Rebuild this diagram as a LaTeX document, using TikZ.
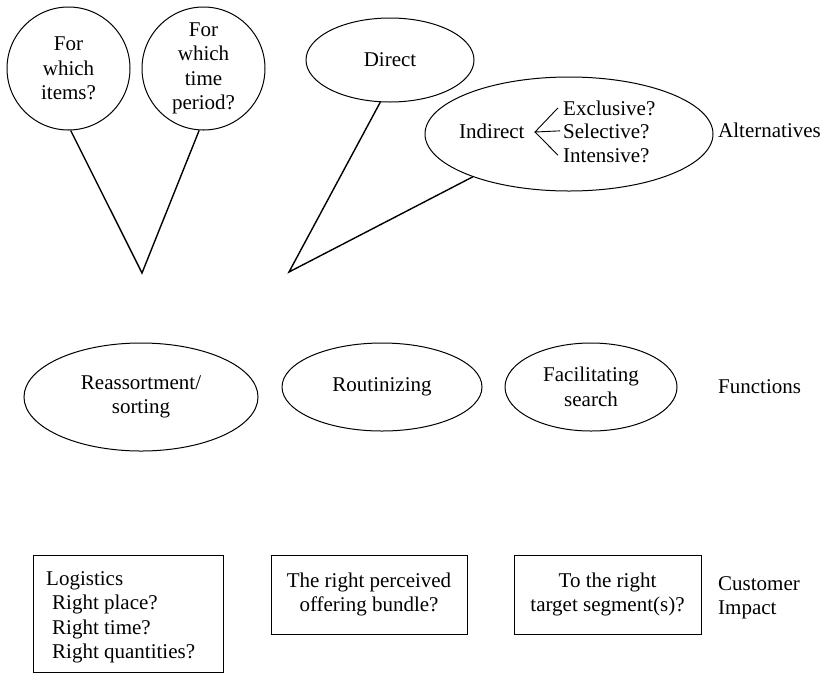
\documentclass[tikz,border=0pt]{standalone}
\usepackage{fontspec}
\setmainfont{Liberation Serif}
\usetikzlibrary{shapes.geometric}
\tikzset{
  txt/.style={font=\fontsize{21}{24.5}\selectfont, inner sep=0pt},
  circ/.style={txt, draw, line width=1pt, circle, minimum size=#1, align=center},
  ell/.style={txt, draw, line width=1pt, ellipse, align=center},
  boxnode/.style={txt, draw, line width=1pt, rectangle, align=center},
  vline/.style={line width=1.4pt},
  brline/.style={line width=0.9pt}
}
\begin{document}
\begin{tikzpicture}[x=1pt,y=-1pt]
\useasboundingbox (0,0) rectangle (826,673);
% top circles
\node[circ=123] (c1) at (68.5,68.5) {For\\which\\items?};
\node[circ=123] (c2) at (203.5,68.5) {For\\which\\time\\period?};
\coordinate (v1) at (142,273);
\draw[vline] (c1.272) -- (v1) -- (c2.266);
% alternatives
\node[ell, minimum width=168, minimum height=84] (dir) at (390,60) {Direct};
\node[ell, minimum width=288, minimum height=114] (ind) at (569,134) {};
\coordinate (v2) at (289,272);
\draw[vline] (dir.257) -- (v2) -- (ind.204);
\node[txt, anchor=base west] (indt) at (459,138) {Indirect};
\node[txt, anchor=base west] (ex) at (563,115) {Exclusive?};
\node[txt, anchor=base west] (se) at (563,138) {Selective?};
\node[txt, anchor=base west] (in) at (563,162) {Intensive?};
\coordinate (br) at (535,132);
\draw[brline] ([xshift=-5pt]ex.west) -- (br) -- ([xshift=-3pt]se.west);
\draw[brline] (br) -- ([xshift=-5pt]in.west);
\node[txt, anchor=base west] (alt) at (718,137) {Alternatives};
% functions
\node[ell, minimum width=234, minimum height=108] (reas) at (141,397) {Reassortment/\\sorting};
\node[ell, minimum width=200, minimum height=88] (rout) at (382,387) {Routinizing};
\node[ell, minimum width=172, minimum height=88] (fac) at (591,387) {Facilitating\\search};
\node[txt, anchor=base west] (fun) at (718,393) {Functions};
% customer impact
\node[boxnode, minimum width=190, minimum height=117] (lbox) at (128,613.5) {};
\node[txt, anchor=base west] (l1) at (46,585) {Logistics};
\node[txt, anchor=base west] (l2) at (52,609.5) {Right place?};
\node[txt, anchor=base west] (l3) at (52,634) {Right time?};
\node[txt, anchor=base west] (l4) at (52,658.5) {Right quantities?};
\node[boxnode, minimum width=196, minimum height=79] (mbox) at (369,594.5) {The right perceived\\offering bundle?};
\node[boxnode, minimum width=187, minimum height=79] (tbox) at (607.5,594.5) {To the right\\target segment(s)?};
\node[txt, anchor=west, align=left] (cust) at (718,598) {Customer\\Impact};
\end{tikzpicture}
\end{document}
